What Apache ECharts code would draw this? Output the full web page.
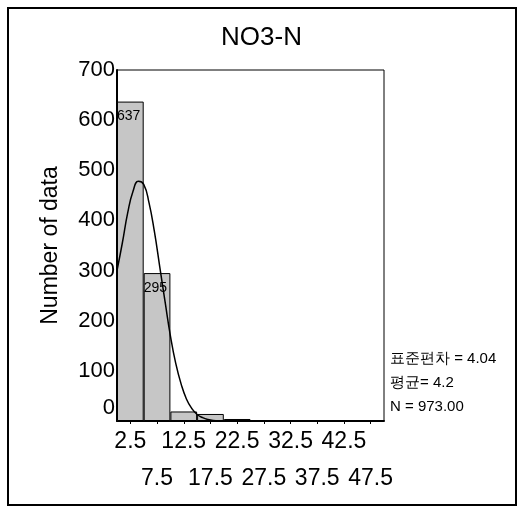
<!DOCTYPE html>
<html>
<head>
<meta charset="utf-8">
<script src="https://cdn.jsdelivr.net/npm/echarts@6/dist/echarts.min.js"></script>
<style>
  html, body { margin: 0; padding: 0; background: #fff; }
  #chart { width: 523px; height: 512px; }
</style>
</head>
<body>
<div id="chart"></div>
<script>
// 히스토그램 구간 (bin centers)
const binLabels = ['2.5', '7.5', '12.5', '17.5', '22.5', '27.5', '32.5', '37.5', '42.5', '47.5']
const binCounts = [637, 295, 19, 14, 4, 1, 1, 1, 0, 1]

// normal curve
const curveX = [0, 1, 2, 3, 4, 5, 6, 7, 8, 9, 10, 11, 12, 13, 14, 15, 16, 17, 18, 20, 22]
const curveY = [300, 355, 415, 458, 478, 472, 435, 378, 308, 238, 170, 115, 74, 44, 25, 13, 7, 3, 1, 0, 0]

const yTicks = [0, 700, 100]
const statLines = ['표준편차 = 4.04', '평균= 4.2', 'N = 973.00']

const font = '"Liberation Sans", Arial, sans-serif'
const chart = echarts.init(document.getElementById('chart'))

const option = {
  backgroundColor: '#fff',
  animation: false,
  title: {
    text: 'NO3-N',
    left: 'center',
    top: 20,
    textStyle: { fontFamily: font, fontSize: 26, fontWeight: 'normal', color: '#000' }
  },
  grid: {
    left: 117, top: 70, right: 139, bottom: 91,
    show: true, borderColor: '#000', borderWidth: 1, backgroundColor: 'transparent'
  },
  xAxis: [
    {
      type: 'category',
      data: binLabels,
      axisLine: { lineStyle: { color: '#000', width: 2 } },
      axisTick: { show: true, alignWithLabel: true, length: 3, lineStyle: { color: '#000' } },
      axisLabel: {
        interval: 0,
        margin: 2,
        fontFamily: font,
        fontSize: 23,
        color: '#000',
        lineHeight: 37,
        formatter: (v, i) => (i % 2 ? '\n' + v : v)
      }
    },
    { type: 'value', min: 0, max: 50, show: false }
  ],
  yAxis: {
    type: 'value',
    min: yTicks[0],
    max: yTicks[1],
    interval: yTicks[2],
    name: 'Number of data',
    nameLocation: 'middle',
    nameGap: 55,
    nameTextStyle: { fontFamily: font, fontSize: 23, color: '#000' },
    splitLine: { show: false },
    axisLine: { show: true, lineStyle: { color: '#000', width: 2 } },
    axisTick: { show: false },
    axisLabel: {
      margin: 2,
      fontFamily: font,
      fontSize: 22,
      color: '#000',
      formatter: v => (v === 0 ? '{z|0}' : String(v)),
      rich: { z: { fontFamily: font, fontSize: 22, color: '#000', padding: [0, 0, 26, 0] } }
    }
  },
  series: [
    {
      type: 'bar',
      data: binCounts,
      barWidth: '100%',
      itemStyle: { color: '#c6c6c6', borderColor: '#000', borderWidth: 1 },
      label: {
        show: true,
        position: 'insideTopLeft',
        distance: 2,
        offset: [-2, 6],
        fontFamily: font,
        fontSize: 14,
        color: '#000',
        formatter: p => (p.value > 100 ? String(p.value) : '')
      },
      z: 2
    },
    {
      type: 'line',
      xAxisIndex: 1,
      data: curveX.map((x, i) => [x, curveY[i]]),
      smooth: true,
      showSymbol: false,
      lineStyle: { color: '#000', width: 1.5 },
      z: 3
    }
  ],
  graphic: [
    {
      type: 'rect',
      shape: { x: 8, y: 8, width: 508, height: 497 },
      style: { fill: 'none', stroke: '#000', lineWidth: 2 },
      silent: true
    },
    ...statLines.map((t, i) => ({
      type: 'text',
      left: 390,
      top: 351 + i * 24,
      style: { text: t, fontFamily: font, fontSize: 15, fill: '#000' }
    }))
  ]
}

chart.setOption(option)
</script>
</body>
</html>
